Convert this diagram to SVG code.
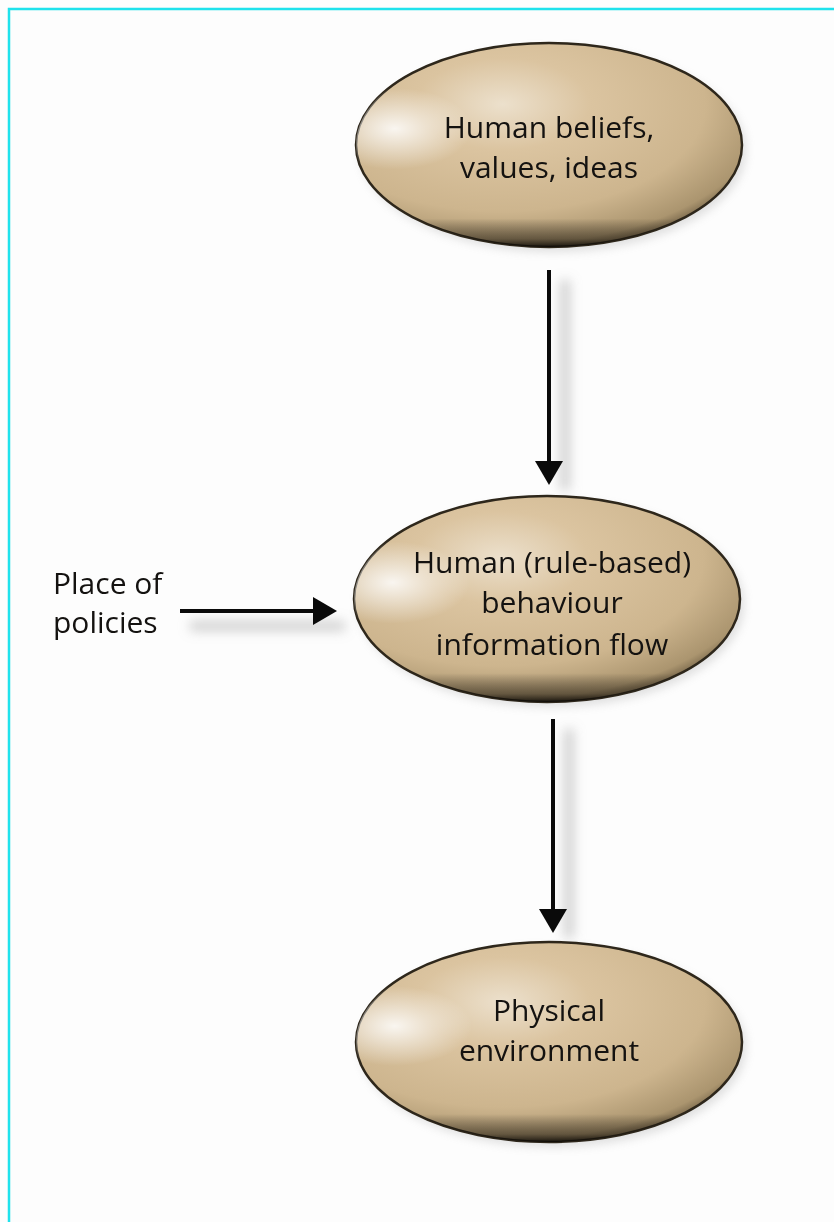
<svg xmlns="http://www.w3.org/2000/svg" width="834" height="1222" viewBox="0 0 834 1222">
<style>
.lbl{font-family:"Open Sans","Noto Sans","Liberation Sans",sans-serif;font-size:30px;fill:#141210;}
.ctr{text-anchor:middle;}
.conn{stroke:#0a0a0a;stroke-width:4;fill:none;}
.shadow{stroke:#9a9a9a;stroke-width:10;fill:none;opacity:0.45;}
.body{fill:url(#bodyGrad);stroke:#2e271b;stroke-width:2.5;}
.rim{fill:url(#rimGrad);}
.shine{fill:url(#shineGrad);}
</style>
<defs>
<radialGradient id="bodyGrad" cx="0.38" cy="0.3" r="0.75">
<stop offset="0" stop-color="#ece0cc"/>
<stop offset="0.3" stop-color="#dbc4a0"/>
<stop offset="0.7" stop-color="#cdb58e"/>
<stop offset="0.92" stop-color="#ab956f"/>
<stop offset="1" stop-color="#6e5e44"/>
</radialGradient>
<linearGradient id="rimGrad" x1="0" y1="0" x2="0" y2="1">
<stop offset="0" stop-color="#000" stop-opacity="0"/>
<stop offset="0.86" stop-color="#000" stop-opacity="0"/>
<stop offset="0.96" stop-color="#1a150d" stop-opacity="0.5"/>
<stop offset="1" stop-color="#0d0a06" stop-opacity="0.9"/>
</linearGradient>
<radialGradient id="shineGrad" cx="0.1" cy="0.42" r="0.2">
<stop offset="0" stop-color="#ffffff" stop-opacity="0.85"/>
<stop offset="1" stop-color="#ffffff" stop-opacity="0"/>
</radialGradient>
<filter id="blur" x="-50%" y="-50%" width="200%" height="200%">
<feGaussianBlur stdDeviation="6"/>
</filter>
<filter id="eshadow" x="-20%" y="-20%" width="140%" height="150%">
<feGaussianBlur stdDeviation="5"/>
</filter>
<marker id="head" markerUnits="userSpaceOnUse" markerWidth="26" markerHeight="30" refX="0" refY="14" orient="auto">
<path d="M0,0 L24,14 L0,28 z" fill="#0a0a0a"/>
</marker>
</defs>
<rect x="0" y="0" width="834" height="1222" fill="#fdfdfd"/>
<path d="M9,1230 L9,9 L840,9" fill="none" stroke="#1fe2ec" stroke-width="2.5"/>

<g id="connectors">
<g filter="url(#blur)">
<path class="shadow" d="M565,280 L565,490"/>
<path class="shadow" d="M569,729 L569,938"/>
<path class="shadow" d="M190,626 L345,626"/>
</g>
<path class="conn" d="M549,270 L549,461" marker-end="url(#head)"/>
<path class="conn" d="M553,719 L553,909" marker-end="url(#head)"/>
<path class="conn" d="M180,611 L313,611" marker-end="url(#head)"/>
</g>

<g id="node-beliefs">
<ellipse cx="553" cy="150" rx="193" ry="102" fill="#888" opacity="0.25" filter="url(#eshadow)"/>
<ellipse class="body" cx="549" cy="145" rx="193" ry="102"/>
<ellipse class="rim" cx="549" cy="145" rx="193" ry="102"/>
<ellipse class="shine" cx="549" cy="145" rx="193" ry="102"/>
<text class="lbl ctr" x="549" y="138">Human beliefs,</text>
<text class="lbl ctr" x="549" y="178">values, ideas</text>
</g>

<g id="node-behaviour">
<ellipse cx="551" cy="604" rx="193" ry="103" fill="#888" opacity="0.25" filter="url(#eshadow)"/>
<ellipse class="body" cx="547" cy="599" rx="193" ry="103"/>
<ellipse class="rim" cx="547" cy="599" rx="193" ry="103"/>
<ellipse class="shine" cx="547" cy="599" rx="193" ry="103"/>
<text class="lbl ctr" x="552" y="573">Human (rule-based)</text>
<text class="lbl ctr" x="552" y="613">behaviour</text>
<text class="lbl ctr" x="552" y="655">information flow</text>
</g>

<g id="node-physical">
<ellipse cx="553" cy="1047" rx="193" ry="100" fill="#888" opacity="0.25" filter="url(#eshadow)"/>
<ellipse class="body" cx="549" cy="1042" rx="193" ry="100"/>
<ellipse class="rim" cx="549" cy="1042" rx="193" ry="100"/>
<ellipse class="shine" cx="549" cy="1042" rx="193" ry="100"/>
<text class="lbl ctr" x="549" y="1021">Physical</text>
<text class="lbl ctr" x="549" y="1061">environment</text>
</g>

<g id="label-policies">
<text class="lbl" x="53" y="594">Place of</text>
<text class="lbl" x="53" y="633">policies</text>
</g>
</svg>
